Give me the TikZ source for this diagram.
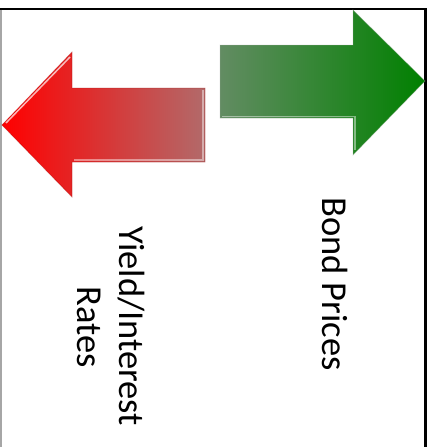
\documentclass[tikz,border=0pt]{standalone}
\usepackage{fontspec}
\setmainfont{Carlito}
\definecolor{gleft}{RGB}{98,140,98}
\definecolor{gright}{RGB}{0,128,0}
\definecolor{rleft}{RGB}{255,0,0}
\definecolor{rright}{RGB}{178,106,106}
\tikzset{
  lbl/.style={font=\fontsize{36.5}{44}\selectfont, rotate=-90, anchor=base, inner sep=0pt},
  bevel/.style={draw=white, draw opacity=0.45, line width=1.2pt, line join=miter},
}
\begin{document}
\begin{tikzpicture}[x=1pt,y=-1pt]
\useasboundingbox (0,0) rectangle (432,447);
\fill[white] (0,0) rectangle (432,447);
% frame
\draw[gray!70, line width=1.5pt] (0.75,9) -- (0.75,447);
\draw[black, line width=2.2pt] (0,9) -- (425.5,9) -- (425.5,447);
% green arrow
\shade[left color=gleft, right color=gright]
  (220,45) -- (353,45) -- (353,10) -- (425,81) -- (353,155) -- (353,118) -- (220,118) -- cycle;
\draw[bevel] (222,116.5) -- (355,116.5) -- (355,150);
\draw[draw=black!30, draw opacity=0.3, line width=0.8pt] (220,45) -- (353,45) -- (353,10) -- (425,81) -- (353,155) -- (353,118) -- (220,118) -- cycle;
% red arrow
\shade[left color=rleft, right color=rright]
  (2,125) -- (72,52) -- (72,88) -- (205,88) -- (205,162) -- (72,162) -- (72,197) -- cycle;
\draw[draw=white, draw opacity=0.7, line width=1.5pt] (6,123) -- (70,57);
\draw[bevel] (203,90) -- (203,160) -- (74,160);
\draw[draw=rleft!60!black, draw opacity=0.3, line width=0.8pt] (2,125) -- (72,52) -- (72,88) -- (205,88) -- (205,162) -- (72,162) -- (72,197) -- cycle;
% labels
\node[lbl] (bond) at (322,284) {Bond Prices};
\node[lbl] (yield) at (119,326) {Yield/Interest};
\node[lbl] (rates) at (77,327) {Rates};
\end{tikzpicture}
\end{document}
